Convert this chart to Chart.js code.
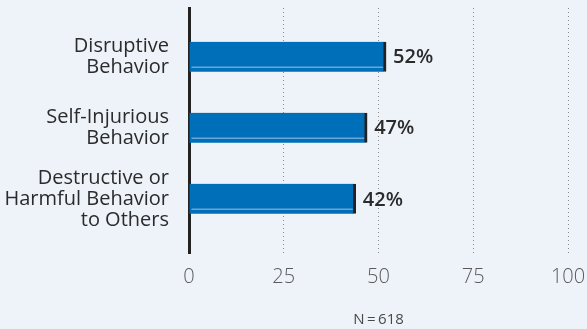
<!DOCTYPE html>
<html>
<head>
<meta charset="utf-8">
<script src="https://cdn.jsdelivr.net/npm/chart.js@4/dist/chart.umd.min.js"></script>
<style>
  html, body { margin: 0; padding: 0; background: #eef3f9; }
  #wrap { width: 587px; height: 329px; position: relative; }
</style>
</head>
<body>
<div id="wrap"><canvas id="chart"></canvas></div>
<script>
// --- Data ---
const categories = [
    ['Disruptive', 'Behavior'],
    ['Self-Injurious', 'Behavior'],
    ['Destructive or', 'Harmful Behavior', 'to Others']
];
const barValues = [52, 47, 44];          // bar lengths as drawn
const valueLabels = ['52%', '47%', '42%']; // printed labels
const xTicks = [0, 25, 50, 75, 100];
const noteText = 'N\u2009=\u2009618';

const fontFamily = "'Open Sans', 'Noto Sans', sans-serif";

// --- Plugin: bar stripe + value labels ---
const barLabels = {
    id: 'barLabels',
    afterDatasetsDraw(chart) {
        const ctx = chart.ctx;
        const meta = chart.getDatasetMeta(0);
        meta.data.forEach((bar, i) => {
            const bottom = bar.y + bar.height / 2;
            // light stripe near bottom of bar
            ctx.save();
            ctx.strokeStyle = '#6aa5d6';
            ctx.lineWidth = 1.5;
            ctx.beginPath();
            ctx.moveTo(bar.base + 2, bottom - 4.5);
            ctx.lineTo(bar.x - 3, bottom - 4.5);
            ctx.stroke();
            // value text
            ctx.fillStyle = '#2b2b2b';
            ctx.font = '600 20px ' + fontFamily;
            ctx.textAlign = 'left';
            ctx.textBaseline = 'middle';
            ctx.fillText(valueLabels[i], bar.x + 7, bar.y + 1);
            ctx.restore();
        });
    }
};

document.addEventListener('DOMContentLoaded', function() {
    const ctx = document.getElementById('chart').getContext('2d');
    Chart.defaults.font.family = fontFamily;

    new Chart(ctx, {
        type: 'bar',
        data: {
            datasets: [{
                data: barValues.map((v, i) => ({ x: v, y: i })),
                backgroundColor: '#006fb9',
                borderColor: '#222222',
                borderWidth: { top: 0, bottom: 0, left: 0, right: 3 },
                borderSkipped: false,
                barThickness: 30
            }]
        },
        options: {
            indexAxis: 'y',
            responsive: true,
            maintainAspectRatio: false,
            animation: false,
            layout: { padding: { top: 8, right: 19, left: 0, bottom: 0 } },
            scales: {
                x: {
                    type: 'linear',
                    min: 0,
                    max: 100,
                    afterBuildTicks: (scale) => { scale.ticks = xTicks.map(v => ({ value: v })); },
                    afterFit: (scale) => {
                        scale.height = 76;
                        scale.paddingLeft = 0;
                        scale.paddingRight = 0;
                    },
                    grid: {
                        color: (c) => (c.tick && c.tick.value === 0) ? 'rgba(0,0,0,0)' : '#8c8c8c',
                        lineWidth: 1,
                        drawTicks: false
                    },
                    border: { display: false, dash: [1, 3] },
                    ticks: {
                        color: '#5a5a5a',
                        padding: 12,
                        font: { size: 20, weight: 300, lineHeight: 1.2 }
                    },
                    title: {
                        display: true,
                        text: noteText,
                        color: '#4a4a4a',
                        font: { size: 15 },
                        padding: { top: 0, bottom: 0 }
                    }
                },
                y: {
                    type: 'linear',
                    reverse: true,
                    offset: false,
                    min: -0.686,
                    max: 2.763,
                    bounds: 'data',
                    afterBuildTicks: (scale) => { scale.ticks = categories.map((c, i) => ({ value: i })); },
                    afterFit: (scale) => {
                        scale.width = 189;
                        scale.paddingTop = 0;
                        scale.paddingBottom = 0;
                    },
                    grid: { display: false, drawTicks: false, offset: false },
                    border: { display: true, color: '#222222', width: 3 },
                    ticks: {
                        color: '#2b2b2b',
                        padding: 20,
                        font: { size: 20, lineHeight: 1.05 },
                        callback: (v) => categories[v] || ''
                    }
                }
            },
            plugins: {
                legend: { display: false },
                tooltip: { enabled: false }
            }
        },
        plugins: [barLabels]
    });
});
</script>
</body>
</html>
